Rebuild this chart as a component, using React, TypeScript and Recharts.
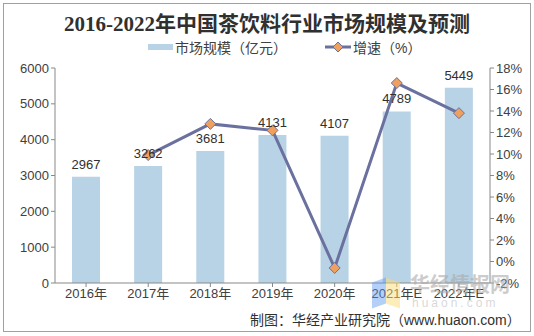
import React from 'react';
import {
  ComposedChart,
  Bar,
  Line,
  XAxis,
  YAxis,
  LabelList,
} from 'recharts';

const years = ['2016年', '2017年', '2018年', '2019年', '2020年', '2021年E', '2022年E'];
const marketSize = [2967, 3262, 3681, 4131, 4107, 4789, 5449];
const growth: (number | null)[] = [null, 9.9, 12.8, 12.2, -0.6, 16.6, 13.8];
const leftTicks = [0, 1000, 2000, 3000, 4000, 5000, 6000];
const rightTicks = [-2, 0, 2, 4, 6, 8, 10, 12, 14, 16, 18];

const data = years.map((year, i) => ({ year, size: marketSize[i], growth: growth[i] }));

const BAR_COLOR = '#b8d3e6';
const LINE_COLOR = '#6b719f';
const DOT_COLOR = '#f0a05e';
const AXIS_COLOR = '#888';
const TEXT_COLOR = '#404040';
const FONT = "'Liberation Sans', Arial, 'Noto Sans CJK SC', sans-serif";

const Diamond = (props: any) => {
  const { cx, cy, value } = props;
  if (value == null || cx == null || cy == null) return null;
  const r = 5.5;
  return (
    <path
      d={`M${cx},${cy - r} L${cx + r},${cy} L${cx},${cy + r} L${cx - r},${cy} Z`}
      fill={DOT_COLOR}
      stroke={LINE_COLOR}
      strokeWidth={1}
    />
  );
};

export default function App() {
  return (
    <div style={{ position: 'absolute', left: 0, top: 0, width: 534, height: 336, background: '#fff', fontFamily: FONT }}>
      <div
        style={{
          position: 'absolute',
          left: 3,
          top: 3,
          width: 526,
          height: 327,
          border: '1px solid #a0a0a0',
        }}
      />
      <div
        style={{
          position: 'absolute',
          left: 0,
          top: 11,
          width: 534,
          textAlign: 'center',
          fontFamily: "'Liberation Serif', 'Noto Sans CJK SC', serif",
          fontWeight: 'bold',
          fontSize: 21,
          color: '#303030',
          lineHeight: '26px',
        }}
      >
        2016-2022年中国茶饮料行业市场规模及预测
      </div>

      {/* legend */}
      <div style={{ position: 'absolute', left: 148, top: 38, height: 18, display: 'flex', alignItems: 'center', fontSize: 14, color: TEXT_COLOR }}>
        <span style={{ display: 'inline-block', width: 25, height: 6, background: BAR_COLOR, marginRight: 2 }} />
        <span>市场规模（亿元）</span>
        <svg width={26} height={14} style={{ marginLeft: 38 }}>
          <line x1={0} y1={7} x2={26} y2={7} stroke={LINE_COLOR} strokeWidth={3} />
          <path d="M13,2 L18,7 L13,12 L8,7 Z" fill={DOT_COLOR} stroke={LINE_COLOR} strokeWidth={1} />
        </svg>
        <span style={{ marginLeft: 2 }}>增速（%）</span>
      </div>

      <div style={{ position: 'absolute', left: 0, top: 0 }}>
        <ComposedChart width={534} height={336} data={data} margin={{ top: 68, right: 4, bottom: 23, left: 10 }}>
          <XAxis
            dataKey="year"
            axisLine={{ stroke: AXIS_COLOR }}
            tickLine={{ stroke: AXIS_COLOR }}
            tickSize={4}
            tick={{ fill: TEXT_COLOR, fontSize: 13 }}
            height={30}
            interval={0}
          />
          <YAxis
            yAxisId="left"
            domain={[0, 6000]}
            ticks={leftTicks}
            width={45}
            axisLine={{ stroke: AXIS_COLOR }}
            tickLine={{ stroke: AXIS_COLOR }}
            tickSize={4}
            tick={{ fill: TEXT_COLOR, fontSize: 13 }}
          />
          <YAxis
            yAxisId="right"
            orientation="right"
            domain={[-2, 18]}
            ticks={rightTicks}
            tickFormatter={(v: number) => `${v}%`}
            width={40}
            axisLine={{ stroke: AXIS_COLOR }}
            tickLine={{ stroke: AXIS_COLOR }}
            tickSize={4}
            tick={{ fill: TEXT_COLOR, fontSize: 13 }}
          />
          <Bar yAxisId="left" dataKey="size" fill={BAR_COLOR} barSize={28} isAnimationActive={false}>
            <LabelList dataKey="size" position="top" offset={8} fill="#303030" fontSize={13} />
          </Bar>
          <Line
            yAxisId="right"
            dataKey="growth"
            stroke={LINE_COLOR}
            strokeWidth={3}
            dot={<Diamond />}
            activeDot={false}
            isAnimationActive={false}
            connectNulls={false}
          />
        </ComposedChart>
      </div>

      {/* watermark */}
      <div style={{ position: 'absolute', left: 372, top: 280, width: 14, height: 26, background: 'rgba(90,150,240,0.45)', transform: 'skewY(-20deg)' }} />
      <div style={{ position: 'absolute', left: 386, top: 280, width: 14, height: 26, background: 'rgba(250,220,120,0.5)', transform: 'skewY(20deg)' }} />
      <div style={{ position: 'absolute', left: 410, top: 272, fontSize: 20, fontWeight: 'bold', color: 'rgba(170,170,170,0.6)', fontFamily: "'Noto Sans CJK SC', sans-serif", lineHeight: '24px' }}>
        华经情报网
      </div>
      <div style={{ position: 'absolute', left: 412, top: 296, fontSize: 12, letterSpacing: 3, color: 'rgba(190,190,190,0.6)', lineHeight: '14px' }}>
        huaon.com
      </div>

      <div style={{ position: 'absolute', left: 250, top: 311, fontSize: 14, color: '#303030', lineHeight: '18px', whiteSpace: 'nowrap' }}>
        制图：华经产业研究院（www.huaon.com）
      </div>
    </div>
  );
}
